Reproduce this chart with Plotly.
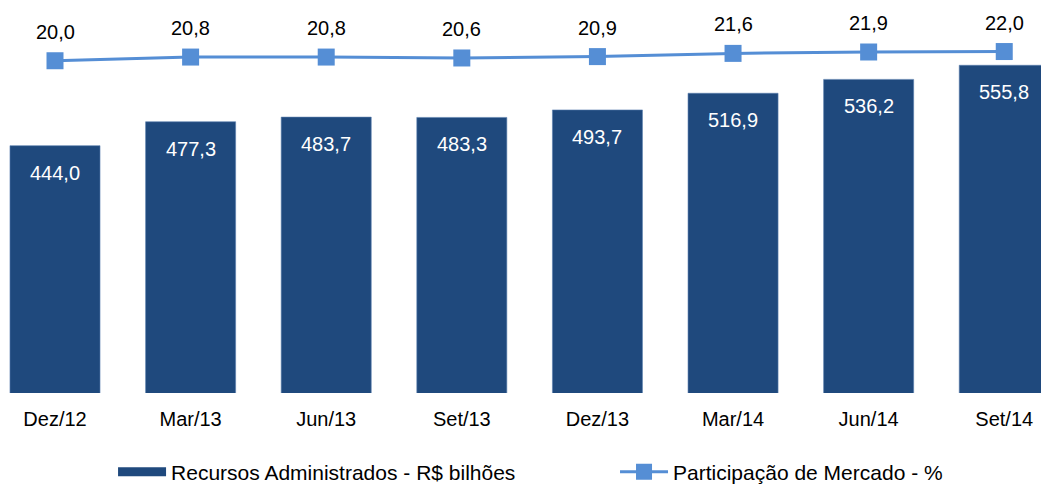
import plotly.graph_objects as go

categories = ["Dez/12", "Mar/13", "Jun/13", "Set/13", "Dez/13", "Mar/14", "Jun/14", "Set/14"]
recursos = [444.0, 477.3, 483.7, 483.3, 493.7, 516.9, 536.2, 555.8]
participacao = [20.0, 20.8, 20.8, 20.6, 20.9, 21.6, 21.9, 22.0]

BAR_COLOR = "#1F497D"
LINE_COLOR = "#558ED5"
FONT = "Liberation Sans, Arial, sans-serif"
NAME_BAR = "Recursos Administrados - R$ bilhões"
NAME_LINE = "Participação de Mercado - %"

def br(v):
    return f"{v:.1f}".replace(".", ",")

fig = go.Figure()
fig.add_trace(go.Bar(
    x=categories, y=recursos, name=NAME_BAR, showlegend=False,
    marker=dict(color=BAR_COLOR, line=dict(color="#5B7FAE", width=0.6)),
    width=0.664, yaxis="y",
))
# legend-only entry so the swatch is a wide flat bar like the original
fig.add_trace(go.Scatter(
    x=[None], y=[None], name=NAME_BAR, mode="lines", legend="legend",
    line=dict(color=BAR_COLOR, width=9), yaxis="y",
))
fig.add_trace(go.Scatter(
    x=categories, y=participacao, name=NAME_LINE, legend="legend2",
    mode="lines+markers", yaxis="y2",
    line=dict(color=LINE_COLOR, width=3),
    marker=dict(symbol="square", size=17, color=LINE_COLOR),
))

annotations = []
for c, v in zip(categories, recursos):
    annotations.append(dict(x=c, y=v, xref="x", yref="y", text=br(v), showarrow=False,
                            yshift=-27, font=dict(family=FONT, size=20, color="white")))
for c, v in zip(categories, participacao):
    annotations.append(dict(x=c, y=v, xref="x", yref="y2", text=br(v), showarrow=False,
                            yshift=29, font=dict(family=FONT, size=20, color="black")))

legend_common = dict(orientation="h", xanchor="left", y=-0.201, yanchor="middle",
                     font=dict(family=FONT, size=21, color="black"),
                     itemwidth=48, bgcolor="rgba(0,0,0,0)")

fig.update_layout(
    width=1041, height=484,
    margin=dict(l=0, r=0, t=0, b=91, autoexpand=False),
    paper_bgcolor="white", plot_bgcolor="white",
    font=dict(family=FONT, size=20, color="black"),
    showlegend=True,
    legend=dict(x=0.1086, **legend_common),
    legend2=dict(x=0.5908, **legend_common),
    xaxis=dict(range=[-0.4056, 7.271], showgrid=False, showline=False, zeroline=False,
               ticks="", tickfont=dict(family=FONT, size=20, color="black"),
               ticklabelstandoff=12),
    yaxis=dict(range=[100, 646.6], visible=False, showgrid=False),
    yaxis2=dict(range=[-52.2, 33.2], overlaying="y", side="right", visible=False, showgrid=False),
    annotations=annotations,
)

fig.write_html("out.html", config={"displayModeBar": False},
               post_script="document.body.style.margin='0';document.body.style.overflow='hidden';")
